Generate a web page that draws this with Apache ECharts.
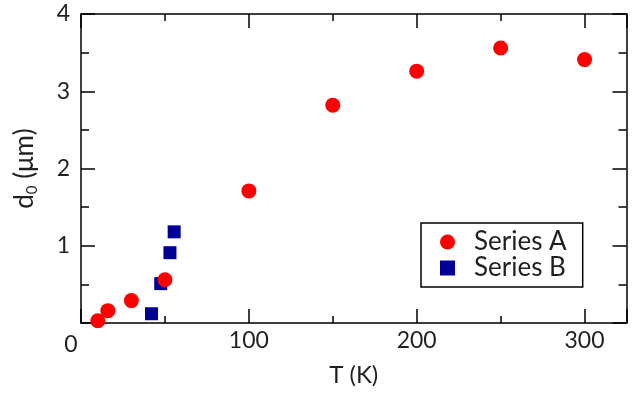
<!DOCTYPE html>
<html>
<head>
<meta charset="utf-8">
<script src="https://cdn.jsdelivr.net/npm/echarts@6/dist/echarts.min.js"></script>
<style>
  html, body { margin: 0; padding: 0; background: #fff; }
  #chart { width: 634px; height: 394px; }
</style>
</head>
<body>
<div id="chart"></div>
<script>
// Data
const seriesAT = [10, 16, 30, 50, 100, 150, 200, 250, 300];
const seriesAD = [0.03, 0.16, 0.29, 0.56, 1.71, 2.82, 3.26, 3.56, 3.41];
const seriesBT = [42, 47.5, 53, 55.5];
const seriesBD = [0.12, 0.51, 0.91, 1.18];
const xTickLabels = ['0', '100', '200', '300'];
const yTickLabels = ['1', '2', '3', '4'];
const seriesNames = ['Series A', 'Series B'];

const FONT = 'Lato';
const TXT = '#231f20';
const chart = echarts.init(document.getElementById('chart'), null, { renderer: 'canvas' });

function pairs(xs, ys) { return xs.map((x, i) => [x, ys[i]]); }

const lineStyle = { color: '#000', width: 1.5 };

function xAx(pos, interval, len, showLine, showLabel) {
  return {
    type: 'value', position: pos, min: 0, max: 325, interval: interval,
    axisLine: { show: showLine, onZero: false, lineStyle: lineStyle },
    axisTick: { show: true, inside: true, length: len, lineStyle: lineStyle },
    splitLine: { show: false },
    axisLabel: showLabel ? {
      show: true, margin: 6, fontFamily: FONT, fontSize: 23, color: TXT,
      formatter: function (v) {
        const s = String(v);
        if (s === xTickLabels[0]) return '{z|' + s + '}';
        return xTickLabels.indexOf(s) >= 0 ? s : '';
      },
      rich: { z: { fontFamily: FONT, fontSize: 23, color: TXT, padding: [4, 20, 0, 0] } }
    } : { show: false },
    name: showLabel ? 'T (K)' : '',
    nameLocation: 'middle', nameGap: 38,
    nameTextStyle: { fontFamily: FONT, fontSize: 24, color: TXT, lineHeight: 28 }
  };
}
function yAx(pos, interval, len, showLine, showLabel) {
  return {
    type: 'value', position: pos, min: 0, max: 4, interval: interval,
    axisLine: { show: showLine, onZero: false, lineStyle: lineStyle },
    axisTick: { show: true, inside: true, length: len, lineStyle: lineStyle },
    splitLine: { show: false },
    axisLabel: showLabel ? {
      show: true, margin: 11, fontFamily: FONT, fontSize: 23, color: TXT,
      formatter: function (v) { const s = String(v); return yTickLabels.indexOf(s) >= 0 ? s : ''; }
    } : { show: false },
    name: showLabel ? '{d|d}{s|0}{d| (μm)}' : '',
    nameLocation: 'middle', nameGap: 41,
    nameTextStyle: {
      fontFamily: FONT, fontSize: 26, color: TXT,
      rich: {
        d: { fontFamily: FONT, fontSize: 26, color: TXT, lineHeight: 30 },
        s: { fontFamily: FONT, fontSize: 15, color: TXT, lineHeight: 14, verticalAlign: 'bottom' }
      }
    }
  };
}

const option = {
  backgroundColor: '#fff',
  animation: false,
  grid: { left: 81, top: 14, right: 7.5, bottom: 68, containLabel: false },
  xAxis: [
    xAx('bottom', 100, 14, true, true),
    xAx('bottom', 50, 7, false, false),
    xAx('top', 100, 14, true, false),
    xAx('top', 50, 7, false, false)
  ],
  yAxis: [
    yAx('left', 1, 14, true, true),
    yAx('left', 0.5, 8, false, false),
    yAx('right', 1, 14, true, false),
    yAx('right', 0.5, 8, false, false)
  ],
  legend: {
    data: seriesNames,
    orient: 'vertical', left: 421, top: 223,
    itemWidth: 15, itemHeight: 15, itemGap: 0,
    padding: [6, 16, 6, 19],
    borderColor: '#000', borderWidth: 1.5, backgroundColor: '#fff',
    textStyle: { fontFamily: FONT, fontSize: 26, color: TXT, lineHeight: 24, padding: [0, 0, 0, 14] }
  },
  series: [
    {
      name: seriesNames[1], type: 'scatter', xAxisIndex: 0, yAxisIndex: 0,
      symbol: 'rect', symbolSize: 13, itemStyle: { color: '#000099', opacity: 1 },
      data: pairs(seriesBT, seriesBD), z: 3
    },
    {
      name: seriesNames[0], type: 'scatter', xAxisIndex: 0, yAxisIndex: 0,
      symbol: 'circle', symbolSize: 15, itemStyle: { color: '#ff0000', opacity: 1 },
      data: pairs(seriesAT, seriesAD), z: 4
    }
  ]
};
chart.setOption(option);
</script>
</body>
</html>
